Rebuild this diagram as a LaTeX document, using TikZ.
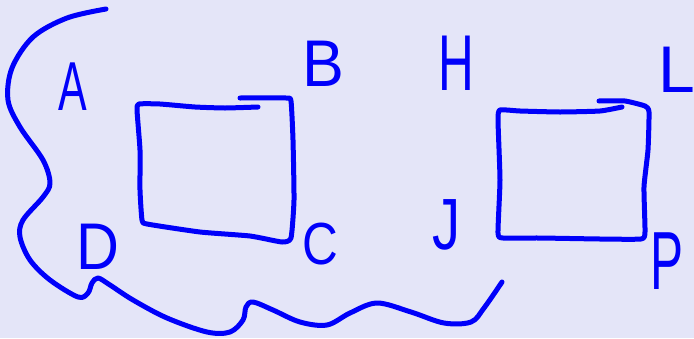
\documentclass[tikz,border=0pt]{standalone}
\usepackage{fontspec}
\setmainfont{Liberation Sans}
\definecolor{bg}{RGB}{228,229,248}
\definecolor{ink}{RGB}{0,0,250}
\begin{document}
\begin{tikzpicture}[x=1pt,y=-1pt,
  pen/.style={draw=ink,line width=5pt,line cap=round,line join=round},
  letter/.style={text=ink,inner sep=0pt,font=\fontsize{66}{66}\selectfont}]
\fill[bg] (0,0) rectangle (694,338);
\useasboundingbox (0,0) rectangle (694,338);
% outer wavy curve
\draw[pen] plot[smooth,tension=0.55] coordinates {(106,9) (67,18) (33,37) (12,68) (8,100) (20,127) (43,160) (50,183) (43,197) (23,220) (20,237) (30,260) (50,280) (78,297) (88,293) (92,283) (98,278) (110,285) (133,300) (167,318) (207,332) (230,332) (243,320) (246,307) (253,302) (273,310) (300,322) (327,325) (350,313) (377,303) (411,312) (444,323) (471,322) (484,308) (502,282)};
% left box
\draw[pen] plot[smooth,tension=0.3] coordinates {(258,107) (225,108) (195,107) (160,104) (139,104) (137,110) (140,150) (140,190) (142,220) (147,224) (200,232) (250,236) (282,242) (291,238) (294,200) (293,140) (291,101) (286,98) (240,98)};
% right box
\draw[pen] plot[smooth,tension=0.3] coordinates {(622,107) (600,111) (560,112) (520,111) (500,110) (498,120) (500,180) (498,233) (503,238) (540,238) (600,239) (641,239) (645,232) (644,187) (648,150) (649,112) (645,106) (625,101) (599,101)};
% labels
\node[letter,xscale=0.65,yscale=1.05] (A) at (73,87) {A};
\node[letter,xscale=0.95] (B) at (323,64) {B};
\node[letter,xscale=0.75,yscale=0.9] (C) at (320,244) {C};
\node[letter,xscale=0.9] (D) at (98,247) {D};
\node[letter,xscale=0.75,yscale=1.2] (H) at (456,63) {H};
\node[letter,xscale=1.0] (L) at (677,70) {L};
\node[letter,xscale=0.85,yscale=1.1] (J) at (447,225) {J};
\node[letter,xscale=0.75,yscale=1.25] (P) at (667,261) {P};
\end{tikzpicture}
\end{document}
